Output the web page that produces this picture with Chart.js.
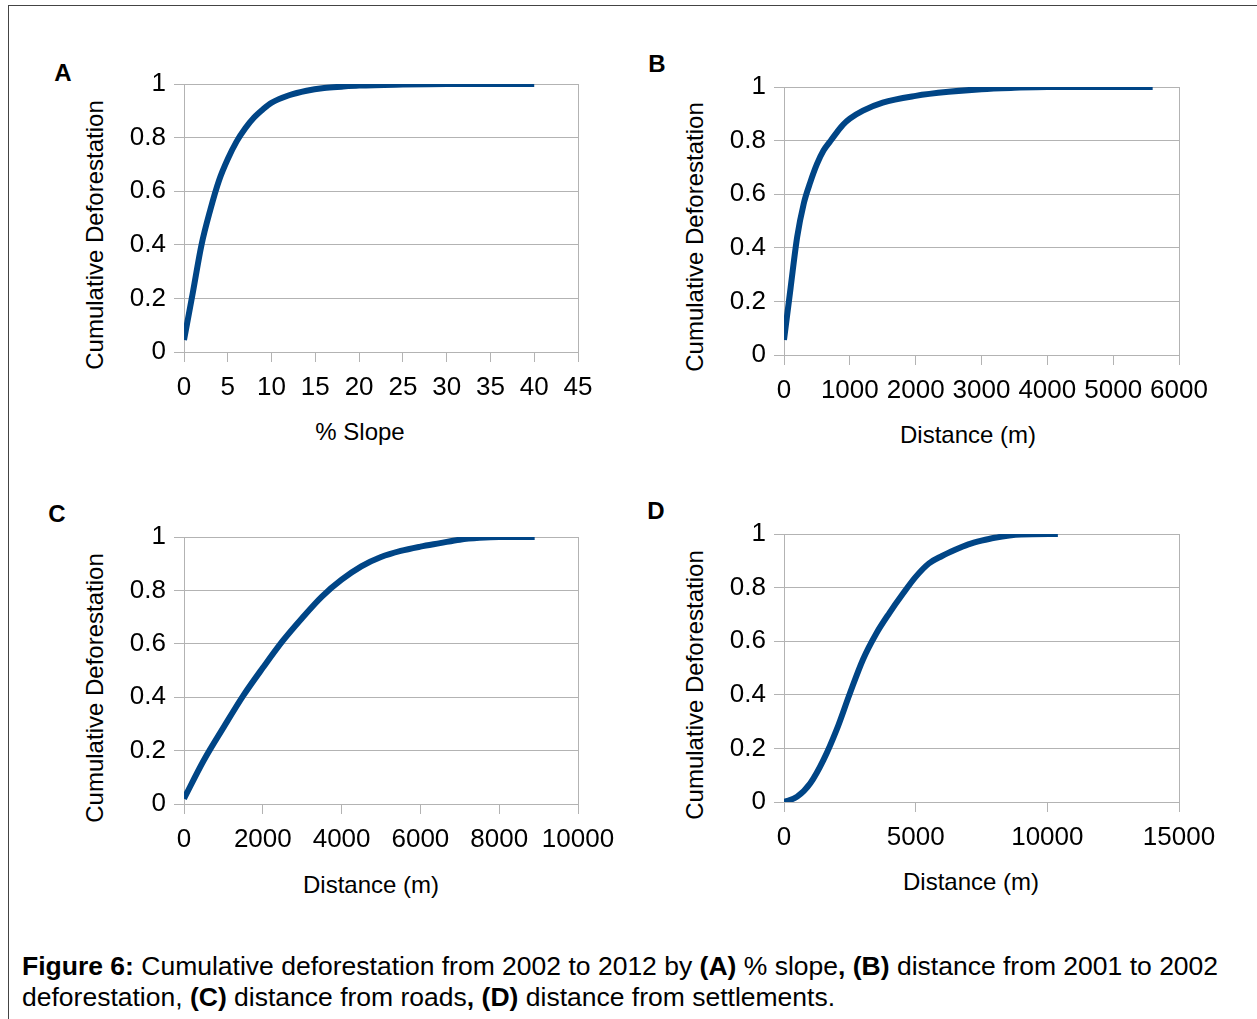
<!DOCTYPE html>
<html>
<head>
<meta charset="utf-8">
<script src="https://cdn.jsdelivr.net/npm/chart.js@4/dist/chart.umd.min.js"></script>
<style>
  body { margin: 0; width: 1257px; height: 1019px; overflow: hidden; background: #fff;
         font-family: "Liberation Sans", Arial, sans-serif; position: relative; }
  #frame { position: absolute; left: 8px; top: 5px; width: 1300px; height: 1100px; border: 1px solid #444; }
  canvas { position: absolute; }
  .lbl { position: absolute; transform: translate(-50%, -50%); white-space: nowrap; color: #000; }
  .panel { font-weight: bold; font-size: 24px; }
  .ytitle { transform: translate(-50%, -50%) rotate(-90deg); font-size: 24px; }
  .xtitle { font-size: 24px; }
  #caption { position: absolute; left: 22px; top: 951px; font-size: 26.5px; line-height: 31px; white-space: nowrap; }
</style>
</head>
<body>
<div id="frame"></div>

<canvas id="chartA"></canvas>
<canvas id="chartB"></canvas>
<canvas id="chartC"></canvas>
<canvas id="chartD"></canvas>

<div class="lbl panel" style="left:63px;top:73px">A</div>
<div class="lbl panel" style="left:657px;top:64px">B</div>
<div class="lbl panel" style="left:57px;top:514px">C</div>
<div class="lbl panel" style="left:656px;top:511px">D</div>

<div class="lbl ytitle" style="left:95px;top:235px">Cumulative Deforestation</div>
<div class="lbl ytitle" style="left:695px;top:237px">Cumulative Deforestation</div>
<div class="lbl ytitle" style="left:95px;top:688px">Cumulative Deforestation</div>
<div class="lbl ytitle" style="left:695px;top:685px">Cumulative Deforestation</div>

<div class="lbl xtitle" style="left:360px;top:432px">% Slope</div>
<div class="lbl xtitle" style="left:968px;top:435px">Distance (m)</div>
<div class="lbl xtitle" style="left:371px;top:885px">Distance (m)</div>
<div class="lbl xtitle" style="left:971px;top:882px">Distance (m)</div>

<div id="caption"><b>Figure 6:</b> Cumulative deforestation from 2002 to 2012 by <b>(A)</b> % slope<b>,</b> <b>(B)</b> distance from 2001 to 2002<br>deforestation, <b>(C)</b> distance from roads<b>,</b> <b>(D)</b> distance from settlements.</div>

<script>
// (A) % slope
const slopeX = [0, 1, 2, 3, 4, 5, 6, 7, 8, 9, 10, 12, 14, 16, 18, 20, 25, 30, 35, 40];
const slopeY = [0.045, 0.22, 0.40, 0.53, 0.64, 0.72, 0.785, 0.835, 0.875, 0.905, 0.93, 0.958, 0.975, 0.985, 0.99, 0.994, 0.998, 1, 1, 1];

// (B) distance from 2001-2002 deforestation
const deforX = [0, 100, 200, 300, 400, 500, 600, 700, 800, 900, 1000, 1200, 1500, 2000, 2500, 3000, 3500, 4000, 5000, 5600];
const deforY = [0.056, 0.25, 0.44, 0.565, 0.645, 0.712, 0.763, 0.797, 0.83, 0.86, 0.882, 0.912, 0.942, 0.967, 0.982, 0.992, 0.997, 1, 1, 1];

// (C) distance from roads
const roadX = [0, 500, 1000, 1500, 2000, 2500, 3000, 3500, 4000, 4500, 5000, 5500, 6000, 6500, 7000, 7500, 8000, 8500, 8900];
const roadY = [0.02, 0.163, 0.286, 0.405, 0.51, 0.61, 0.697, 0.777, 0.84, 0.89, 0.925, 0.948, 0.964, 0.977, 0.99, 0.997, 1, 1, 1];

// (D) distance from settlements
const settleX = [0, 500, 1000, 1500, 2000, 2500, 3000, 3500, 4000, 4500, 5000, 5500, 6000, 6500, 7000, 7500, 8000, 9000, 10400];
const settleY = [0, 0.02, 0.07, 0.157, 0.27, 0.405, 0.532, 0.628, 0.705, 0.775, 0.84, 0.89, 0.918, 0.941, 0.961, 0.975, 0.986, 0.998, 1];

const yTicks = [0, 0.2, 0.4, 0.6, 0.8, 1];

const lineColor = "#004586";
const gridColor = "#b3b3b3";
const tickFont = { family: "Liberation Sans", size: 26 };

// margins around the plot area inside each canvas
const yAxisWidth = 74;
const xAxisHeight = 58;
const padTop = 40;
const padRight = 60;

function makeChart(id, xs, ys, xMax, xStep, area) {
  const canvas = document.getElementById(id);
  canvas.width = area.right - area.left + yAxisWidth + padRight;
  canvas.height = area.bottom - area.top + padTop + xAxisHeight;
  canvas.style.left = (area.left - yAxisWidth) + "px";
  canvas.style.top = (area.top - padTop) + "px";

  const points = xs.map((x, i) => ({ x: x, y: ys[i] }));

  return new Chart(canvas.getContext("2d"), {
    type: "line",
    data: {
      datasets: [
        {
          data: points,
          borderColor: lineColor,
          borderWidth: 6,
          pointRadius: 0,
          cubicInterpolationMode: "monotone",
          borderCapStyle: "butt",
          fill: false,
        },
      ],
    },
    options: {
      responsive: false,
      animation: false,
      layout: { padding: { top: padTop, right: padRight, left: 0, bottom: 0 } },
      plugins: { legend: { display: false }, tooltip: { enabled: false } },
      scales: {
        x: {
          type: "linear",
          min: 0,
          max: xMax,
          afterFit: (scale) => { scale.height = xAxisHeight; },
          ticks: {
            stepSize: xStep,
            autoSkip: false,
            maxRotation: 0,
            padding: 10,
            color: "#000",
            font: tickFont,
            callback: (v) => String(v),
          },
          grid: {
            color: (ctx) => (ctx.index === ctx.scale.ticks.length - 1 ? gridColor : "rgba(0,0,0,0)"),
            tickColor: gridColor,
            tickLength: 10,
            lineWidth: 1,
          },
          border: { display: true, color: gridColor },
        },
        y: {
          min: 0,
          max: 1,
          afterFit: (scale) => { scale.width = yAxisWidth; },
          afterBuildTicks: (scale) => { scale.ticks = yTicks.map((v) => ({ value: v })); },
          ticks: {
            padding: 8,
            color: "#000",
            font: tickFont,
            callback: (v) => String(Math.round(v * 10) / 10),
          },
          grid: { color: gridColor, tickColor: gridColor, tickLength: 10, lineWidth: 1 },
          border: { display: true, color: gridColor },
        },
      },
    },
  });
}

makeChart("chartA", slopeX, slopeY, 45, 5, { left: 184, top: 84, right: 578, bottom: 352 });
makeChart("chartB", deforX, deforY, 6000, 1000, { left: 784, top: 87, right: 1179, bottom: 355 });
makeChart("chartC", roadX, roadY, 10000, 2000, { left: 184, top: 537, right: 578, bottom: 804 });
makeChart("chartD", settleX, settleY, 15000, 5000, { left: 784, top: 534, right: 1179, bottom: 802 });
</script>
</body>
</html>
